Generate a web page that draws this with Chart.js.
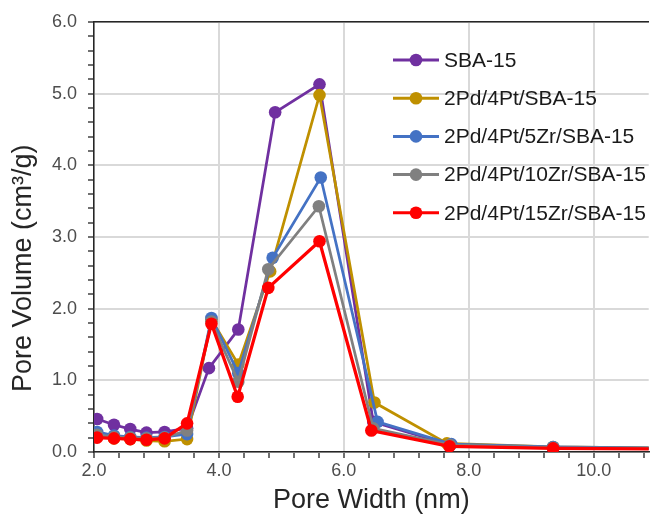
<!DOCTYPE html>
<html>
<head>
<meta charset="utf-8">
<script src="https://cdn.jsdelivr.net/npm/chart.js@4.4.1/dist/chart.umd.min.js"></script>
<style>
body{margin:0;background:#fff;}
</style>
</head>
<body>
<canvas id="chart" width="655" height="517"></canvas>
<script>
const seriesNames = ["SBA-15","2Pd/4Pt/SBA-15","2Pd/4Pt/5Zr/SBA-15","2Pd/4Pt/10Zr/SBA-15","2Pd/4Pt/15Zr/SBA-15"];
const seriesColors = ["#7030a0","#bf9000","#4472c4","#808080","#ff0000"];

// pore width (nm) / pore volume (cm3/g)
const sbaX  = [2.05,2.32,2.58,2.84,3.13,3.49,3.84,4.31,4.90,5.61,6.47,7.70,9.35,11.8];
const sbaY  = [0.46,0.38,0.32,0.27,0.28,0.33,1.17,1.71,4.74,5.13,0.42,0.10,0.06,0.04];
const pdptX = [2.05,2.32,2.58,2.84,3.13,3.49,3.88,4.31,4.82,5.61,6.49,7.65,9.35,11.8];
const pdptY = [0.22,0.19,0.18,0.16,0.15,0.18,1.85,1.22,2.52,4.98,0.69,0.12,0.07,0.05];
const zr5X  = [2.05,2.32,2.58,2.84,3.13,3.49,3.88,4.31,4.86,5.63,6.54,7.72,9.35,11.8];
const zr5Y  = [0.28,0.23,0.21,0.20,0.21,0.25,1.87,1.10,2.71,3.83,0.42,0.11,0.07,0.05];
const zr10X = [2.05,2.32,2.58,2.84,3.13,3.49,3.88,4.31,4.79,5.60,6.47,7.70,9.35,11.8];
const zr10Y = [0.24,0.21,0.20,0.19,0.20,0.30,1.82,0.98,2.55,3.43,0.33,0.10,0.06,0.05];
const zr15X = [2.05,2.32,2.58,2.84,3.13,3.49,3.88,4.30,4.79,5.61,6.44,7.69,9.35,11.8];
const zr15Y = [0.20,0.19,0.18,0.17,0.19,0.40,1.79,0.77,2.29,2.94,0.30,0.08,0.05,0.04];

const FONT = "'Liberation Sans', Arial, sans-serif";
Chart.defaults.font.family = FONT;

const xs = [sbaX,pdptX,zr5X,zr10X,zr15X];
const ys = [sbaY,pdptY,zr5Y,zr10Y,zr15Y];

function pts(xv, yv){ return xv.map((x,i)=>({x:x, y:yv[i]})); }
function near(v, step){ return Math.abs(v/step - Math.round(v/step)) < 1e-6; }

const datasets = seriesNames.map((name,i)=>({
  label:name,
  data:pts(xs[i],ys[i]),
  borderColor:seriesColors[i],
  backgroundColor:seriesColors[i],
  borderWidth: i==4 ? 3.25 : 2.75,
  pointRadius:6.3,
  pointHoverRadius:6.3,
  pointBorderWidth:0,
  tension:0,
  order:5-i
}));

// legend inside the plot, line + marker
const legendBox = {
  id:'legendBox',
  afterDraw(chart){
    const ctx = chart.ctx;
    ctx.save();
    ctx.font = "21px " + FONT;
    ctx.textBaseline = 'middle';
    chart.data.datasets.forEach((ds,i)=>{
      const y = 60 + i*38.2;
      ctx.strokeStyle = ds.borderColor;
      ctx.lineWidth = 3;
      ctx.beginPath(); ctx.moveTo(393,y); ctx.lineTo(439,y); ctx.stroke();
      ctx.fillStyle = ds.borderColor;
      ctx.beginPath(); ctx.arc(416,y,6.3,0,Math.PI*2); ctx.fill();
      ctx.fillStyle = '#1a1a1a';
      ctx.fillText(ds.label,444,y+1);
    });
    ctx.restore();
  }
};

// y title sits lower than the plot centre in the original
const yTitle = {
  id:'yTitle',
  afterDraw(chart){
    const ctx = chart.ctx;
    ctx.save();
    ctx.translate(23.5,392);
    ctx.rotate(-Math.PI/2);
    ctx.font = "27px " + FONT;
    ctx.fillStyle = '#262626';
    ctx.textAlign = 'left';
    ctx.textBaseline = 'middle';
    ctx.fillText("Pore Volume (cm³/g)",0,0);
    ctx.restore();
  }
};

new Chart(document.getElementById("chart"),{
  type:"scatter",
  data:{datasets:datasets},
  plugins:[legendBox,yTitle],
  options:{
    responsive:false,
    animation:false,
    showLine:true,
    layout:{padding:{top:22,left:0,right:0,bottom:0}},
    plugins:{legend:{display:false},tooltip:{enabled:false}},
    scales:{
      x:{
        type:'linear', position:'bottom',
        min:2, max:10.88,
        afterFit(s){ s.height = 65; },
        ticks:{
          stepSize:0.4, includeBounds:false, autoSkip:false, maxRotation:0,
          padding:2, color:'#4d4d4d', font:{size:18},
          callback:v => near(v,2) ? v.toFixed(1) : ''
        },
        grid:{
          color:c => near(c.tick.value,2) ? '#d9d9d9' : 'rgba(0,0,0,0)',
          lineWidth:2, tickLength:6, tickColor:'#404040', tickWidth:1.5
        },
        border:{color:'#262626', width:1.5},
        title:{display:true, text:'Pore Width (nm)', color:'#262626', font:{size:27}, padding:{top:0,bottom:0}}
      },
      xTop:{
        type:'linear', position:'top',
        min:2, max:10.88,
        afterFit(s){ s.height = 0; },
        ticks:{display:false},
        grid:{display:false, drawTicks:false},
        border:{color:'#262626', width:1.5}
      },
      y:{
        min:0, max:6,
        afterFit(s){ s.width = 94; },
        ticks:{
          stepSize:0.2, autoSkip:false, padding:11, color:'#4d4d4d', font:{size:18},
          callback:v => near(v,1) ? v.toFixed(1) : ''
        },
        grid:{
          color:c => near(c.tick.value,1) ? '#d9d9d9' : 'rgba(0,0,0,0)',
          lineWidth:2, tickLength:6, tickColor:'#404040', tickWidth:1.5
        },
        border:{color:'#262626', width:1.5}
      }
    }
  }
});
</script>
</body>
</html>
